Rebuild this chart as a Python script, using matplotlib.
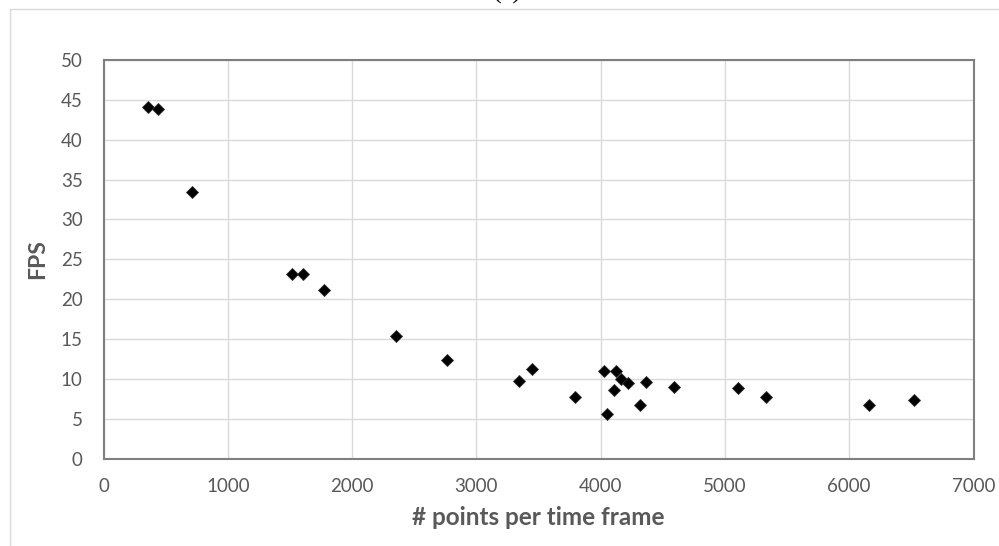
import matplotlib
matplotlib.use("Agg")
import matplotlib.pyplot as plt
from matplotlib.patches import Rectangle

# Points per time frame vs. achieved frame rate
points_per_frame = [355, 436, 715, 1517, 1608, 1777, 2351, 2766, 3340, 3446,
                    3790, 4024, 4123, 4165, 4224, 4108, 4052, 4313, 4364, 4592,
                    5102, 5327, 6158, 6518]
fps = [44.1, 43.9, 33.5, 23.2, 23.2, 21.2, 15.4, 12.4, 9.7, 11.2,
       7.7, 11.0, 11.0, 10.0, 9.5, 8.6, 5.6, 6.7, 9.6, 9.0,
       8.9, 7.75, 6.7, 7.3]

x_ticks = [0, 1000, 2000, 3000, 4000, 5000, 6000, 7000]
y_ticks = [0, 5, 10, 15, 20, 25, 30, 35, 40, 45, 50]

W, H = 999, 546
fig = plt.figure(figsize=(W / 100, H / 100), dpi=100)
plt.rcParams['font.family'] = ['Lato', 'DejaVu Sans']

left, right, top, bottom = 103.5, 973.5, 60, 458.5
ax = fig.add_axes([left / W, 1 - bottom / H, (right - left) / W, (bottom - top) / H])

ax.plot(points_per_frame, fps, linestyle='none', marker='D', markersize=6.2,
        markerfacecolor='black', markeredgecolor='#303030', markeredgewidth=0.6,
        zorder=3)

ax.set_xlim(0, 7000)
ax.set_ylim(0, 50)
ax.set_xticks(x_ticks)
ax.set_yticks(y_ticks)
ax.grid(True, color='#d9d9d9', linewidth=1.0)
ax.set_axisbelow(True)
ax.tick_params(length=0, labelsize=13.5, labelcolor='#595959')
ax.tick_params(axis='y', pad=15)
ax.tick_params(axis='x', pad=14)
for s in ax.spines.values():
    s.set_color('#7f7f7f')
    s.set_linewidth(1.5)

ax.set_xlabel('# points per time frame', fontsize=17.5, fontweight='bold',
              color='#595959', labelpad=8)
ax.set_ylabel('FPS', fontsize=16.5, fontweight='bold', color='#595959',
              labelpad=9)

# Chart-area frame running off the right and bottom edges
fig.patches.append(Rectangle((9.5 / W, -0.2), 1.2, 1.2 - 9.3 / H,
                             transform=fig.transFigure, fill=False,
                             edgecolor='#d9d9d9', linewidth=1.0))

fig.text(507 / W, 1 + 1.0 / H, '(a)', ha='center', va='baseline',
         fontsize=19, family='Liberation Serif', color='black')

fig.savefig('out.png', dpi=100)
